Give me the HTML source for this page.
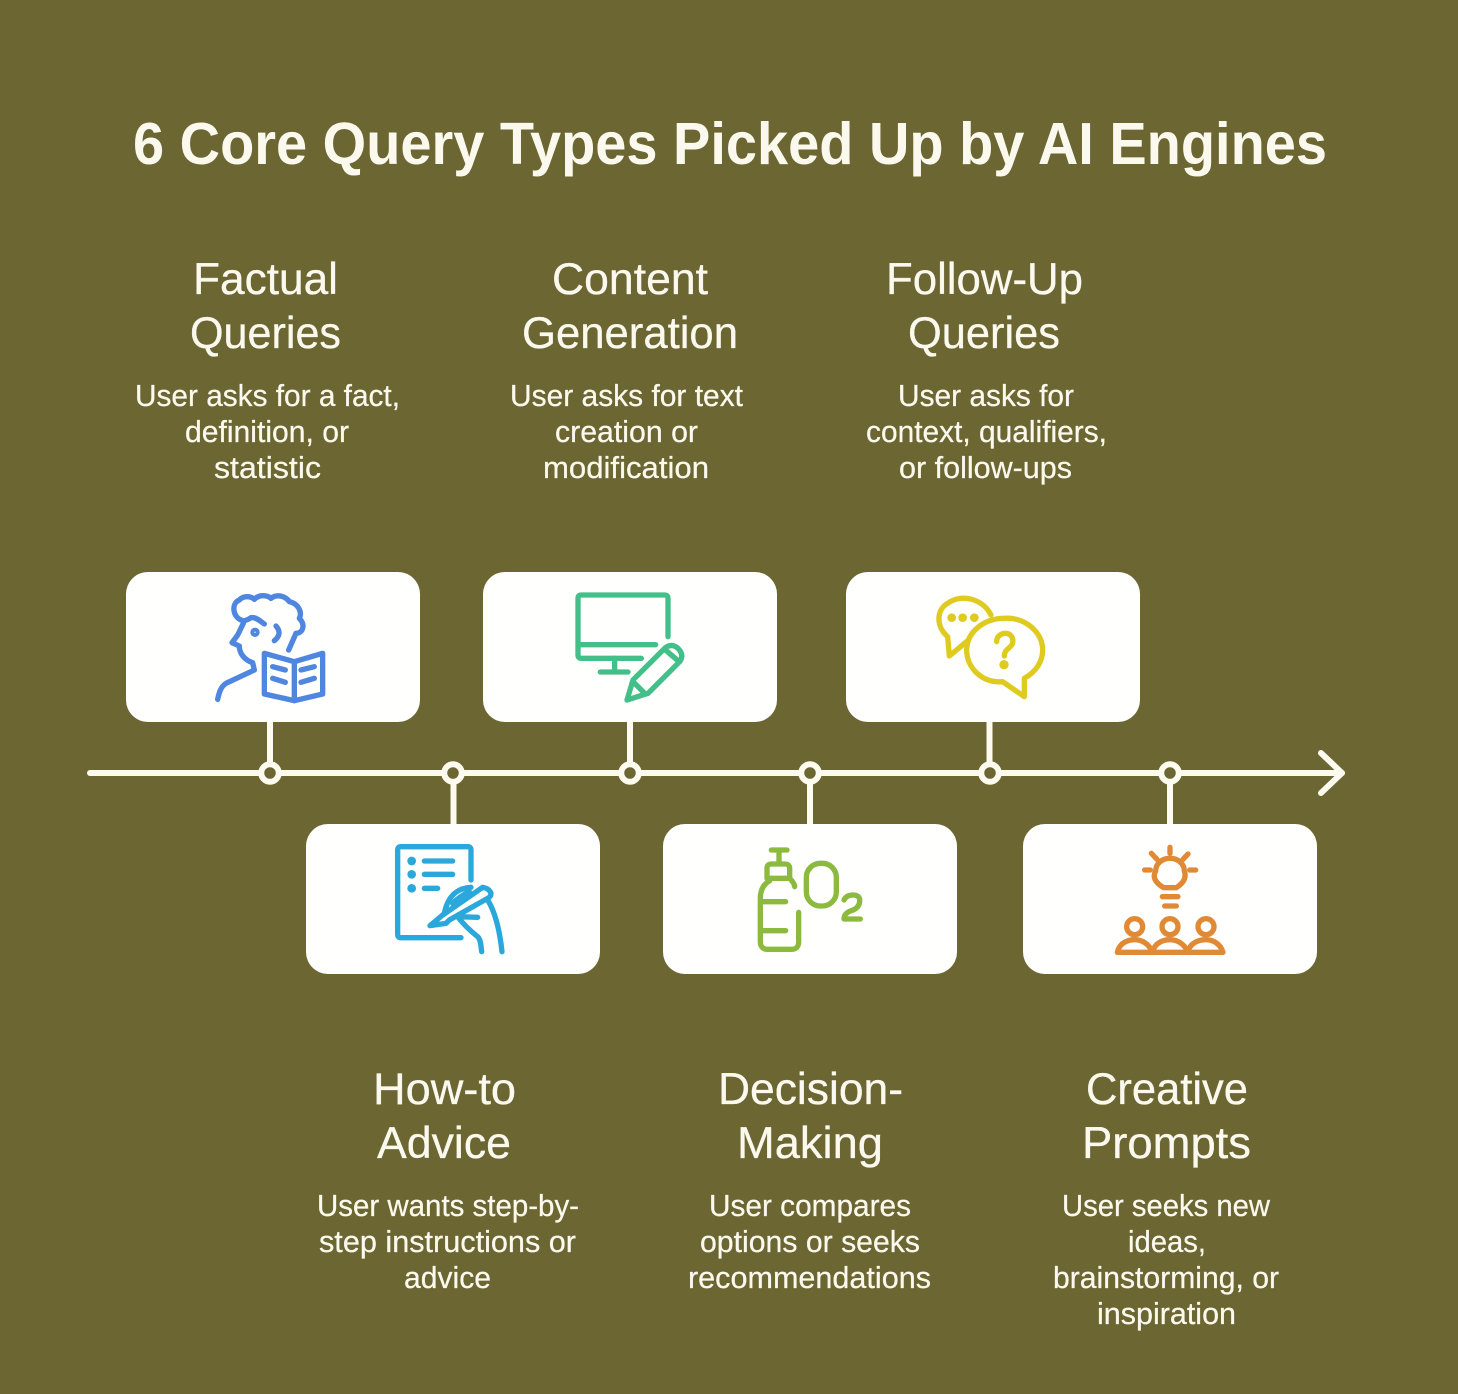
<!DOCTYPE html>
<html><head><meta charset="utf-8"><style>
html,body{margin:0;padding:0;background:#6b6632}
svg{display:block}
text{font-family:"Liberation Sans",sans-serif;fill:#fbf9ee}
.h{font-size:44.500px;stroke:#fbf9ee;stroke-width:.3}
.d{font-size:30.500px;stroke:#fbf9ee;stroke-width:.25}
.i{fill:none;stroke-width:16;stroke-linecap:round;stroke-linejoin:round}
</style></head><body>
<svg width="1458" height="1394" viewBox="0 0 1458 1394" xmlns="http://www.w3.org/2000/svg">
<rect width="1458" height="1394" fill="#6b6632"/>
<text x="133" y="164" font-size="59" font-weight="700" textLength="1194" lengthAdjust="spacingAndGlyphs">6 Core Query Types Picked Up by AI Engines</text>

<text class="h" x="193" y="294" textLength="145" lengthAdjust="spacingAndGlyphs">Factual</text>
<text class="h" x="190" y="348" textLength="151" lengthAdjust="spacingAndGlyphs">Queries</text>
<text class="h" x="552" y="294" textLength="156" lengthAdjust="spacingAndGlyphs">Content</text>
<text class="h" x="522" y="348" textLength="216" lengthAdjust="spacingAndGlyphs">Generation</text>
<text class="h" x="886" y="294" textLength="197" lengthAdjust="spacingAndGlyphs">Follow-Up</text>
<text class="h" x="908" y="348" textLength="152" lengthAdjust="spacingAndGlyphs">Queries</text>
<text class="h" x="373" y="1104" textLength="143" lengthAdjust="spacingAndGlyphs">How-to</text>
<text class="h" x="377" y="1158" textLength="134" lengthAdjust="spacingAndGlyphs">Advice</text>
<text class="h" x="718" y="1104" textLength="185" lengthAdjust="spacingAndGlyphs">Decision-</text>
<text class="h" x="737" y="1158" textLength="146" lengthAdjust="spacingAndGlyphs">Making</text>
<text class="h" x="1086" y="1104" textLength="162" lengthAdjust="spacingAndGlyphs">Creative</text>
<text class="h" x="1082" y="1158" textLength="169" lengthAdjust="spacingAndGlyphs">Prompts</text>

<text class="d" x="135" y="406" textLength="265" lengthAdjust="spacingAndGlyphs">User asks for a fact,</text>
<text class="d" x="185" y="442" textLength="164" lengthAdjust="spacingAndGlyphs">definition, or</text>
<text class="d" x="214" y="478" textLength="107" lengthAdjust="spacingAndGlyphs">statistic</text>
<text class="d" x="510" y="406" textLength="233" lengthAdjust="spacingAndGlyphs">User asks for text</text>
<text class="d" x="555" y="442" textLength="143" lengthAdjust="spacingAndGlyphs">creation or</text>
<text class="d" x="543" y="478" textLength="166" lengthAdjust="spacingAndGlyphs">modification</text>
<text class="d" x="898" y="406" textLength="176" lengthAdjust="spacingAndGlyphs">User asks for</text>
<text class="d" x="866" y="442" textLength="241" lengthAdjust="spacingAndGlyphs">context, qualifiers,</text>
<text class="d" x="899" y="478" textLength="173" lengthAdjust="spacingAndGlyphs">or follow-ups</text>
<text class="d" x="317" y="1216" textLength="262" lengthAdjust="spacingAndGlyphs">User wants step-by-</text>
<text class="d" x="319" y="1252" textLength="257" lengthAdjust="spacingAndGlyphs">step instructions or</text>
<text class="d" x="404" y="1288" textLength="87" lengthAdjust="spacingAndGlyphs">advice</text>
<text class="d" x="709" y="1216" textLength="202" lengthAdjust="spacingAndGlyphs">User compares</text>
<text class="d" x="700" y="1252" textLength="220" lengthAdjust="spacingAndGlyphs">options or seeks</text>
<text class="d" x="688" y="1288" textLength="243" lengthAdjust="spacingAndGlyphs">recommendations</text>
<text class="d" x="1062" y="1216" textLength="208" lengthAdjust="spacingAndGlyphs">User seeks new</text>
<text class="d" x="1128" y="1252" textLength="78" lengthAdjust="spacingAndGlyphs">ideas,</text>
<text class="d" x="1053" y="1288" textLength="226" lengthAdjust="spacingAndGlyphs">brainstorming, or</text>
<text class="d" x="1097" y="1324" textLength="139" lengthAdjust="spacingAndGlyphs">inspiration</text>

<!-- timeline -->
<g stroke="#fdfbf0" stroke-width="6" fill="none" stroke-linecap="round" stroke-linejoin="round">
<path d="M90 773H1342"/>
<path d="M1321 753L1342 773L1321 793"/>
<path d="M270 722V764M630 722V764M989.500 722V764M453.500 782V824M810 782V824M1170 782V824" stroke-linecap="butt"/>
<g fill="#6b6632">
<circle cx="270" cy="773" r="8.750"/><circle cx="453" cy="773" r="8.750"/><circle cx="630" cy="773" r="8.750"/>
<circle cx="810" cy="773" r="8.750"/><circle cx="990" cy="773" r="8.750"/><circle cx="1170" cy="773" r="8.750"/>
</g>
</g>

<!-- cards -->
<g fill="#fffffd">
<rect x="126" y="572" width="294" height="150" rx="22"/>
<rect x="483" y="572" width="294" height="150" rx="22"/>
<rect x="846" y="572" width="294" height="150" rx="22"/>
<rect x="306" y="824" width="294" height="150" rx="22"/>
<rect x="663" y="824" width="294" height="150" rx="22"/>
<rect x="1023" y="824" width="294" height="150" rx="22"/>
</g>

<!-- icon 1: reader -->
<g class="i" stroke="#4f86e0" transform="translate(126 570) scale(.33333)">
<path d="M345 150C320 140 315 100 340 90C352 76 375 78 385 88C400 72 425 76 435 85C455 70 480 80 490 95C515 100 530 125 520 145C540 165 530 190 510 190L488 240"/>
<path d="M345 150C352 155 365 150 375 143C390 140 405 155 415 162"/>
<path d="M352 160L335 195L318 218L340 228C340 250 355 270 380 278L385 300L300 340C285 350 280 365 275 388"/>
<path d="M450 168C465 185 460 200 445 212"/>
<circle cx="387" cy="187" r="6"/>
<path d="M415 250L505 275L590 250V372L505 392L415 372Z"/>
<path d="M505 275V392"/>
<path d="M440 290L478 300M440 325L478 337M525 300L565 290M525 337L565 325"/>
</g>

<!-- icon 2: monitor & pencil -->
<g class="i" stroke="#43c08a" transform="translate(483 570) scale(.33333)">
<path d="M555 200V85Q555 75 545 75H295Q285 75 285 85V255Q285 265 295 265H475"/>
<path d="M290 224H518"/>
<path d="M395 265V305"/>
<path d="M352 306H435"/>
<path d="M432 390L450 330L545 235Q565 218 585 235Q605 255 590 275L495 370Z"/>
<path d="M450 335L487 372M545 238L585 272"/>
</g>

<!-- icon 3: speech bubbles -->
<g class="i" stroke="#dfcb20" transform="translate(846 570) scale(.33333)">
<path d="M365 212L310 258L305 200C270 170 270 120 305 100C345 70 410 85 435 135"/>
<path d="M475 145C535 140 590 185 590 240C590 275 570 305 535 325V380L470 335C410 340 362 295 362 240C362 185 415 145 475 145Z"/>
<path d="M452 215C452 195 470 190 478 190C495 190 503 205 500 218C497 235 475 235 475 258"/>
<g fill="#dfcb20" stroke="none">
<circle cx="317" cy="143" r="13"/><circle cx="350" cy="143" r="13"/><circle cx="385" cy="143" r="13"/>
<circle cx="474" cy="284" r="14"/>
</g>
</g>

<!-- icon 4: writing -->
<g class="i" stroke="#2aa8dc" transform="translate(306 760) scale(.33333)">
<path d="M465 533H285Q275 533 275 523V270Q275 260 285 260H485Q495 260 495 270V360"/>
<path d="M355 303H440M355 343H440M355 385H395"/>
<g fill="#2aa8dc" stroke="none"><circle cx="317" cy="303" r="13"/><circle cx="317" cy="343" r="13"/><circle cx="317" cy="385" r="13"/></g>
<path d="M372 497L410 465L530 382Q550 385 555 400Q555 410 545 415L430 480L420 490Z"/>
<path d="M415 460C425 410 450 385 495 382"/>
<path d="M440 430C455 415 470 405 490 395"/>
<path d="M455 470L515 472M455 470C470 490 490 510 515 530C525 540 525 560 527 575"/>
<path d="M545 420C570 460 582 520 588 575"/>
</g>

<!-- icon 5: O2 -->
<g class="i" stroke="#8cba3e" transform="translate(663 760) scale(.33333)">
<path d="M325 270H372M348 270V310"/>
<path d="M312 355V325Q312 312 325 312H365Q380 312 380 325V355Z"/>
<path d="M320 362C298 375 292 395 292 415V545Q292 568 315 568H385Q407 568 407 545V457"/>
<path d="M380 355Q395 370 395 380"/>
<path d="M295 425H368M295 512H368"/>
<rect x="430" y="310" width="90" height="128" rx="42"/>
<path d="M543 420Q550 405 570 405Q592 405 590 425Q588 445 565 452Q543 460 543 477H592"/>
</g>

<!-- icon 6: idea -->
<g class="i" stroke="#e08a35" transform="translate(1023 745) scale(.33333)">
<path d="M365 375H382M500 375H518M441 307V325M385 325L402 343M495 327L480 343"/>
<path d="M422 428C395 412 388 395 398 378C398 355 418 340 441 340C464 340 484 355 484 378C490 395 485 412 460 428Z"/>
<path d="M418 455H465M425 483H460"/>
<circle cx="335" cy="545" r="24"/><circle cx="441" cy="545" r="24"/><circle cx="549" cy="545" r="24"/>
<path d="M283 622C290 590 320 584 335 584C355 584 378 595 388 622Z"/>
<path d="M388 622C396 590 425 584 441 584C460 584 485 595 494 622Z"/>
<path d="M494 622C502 590 532 584 549 584C568 584 592 595 600 622Z"/>
</g>
</svg>
</body></html>
